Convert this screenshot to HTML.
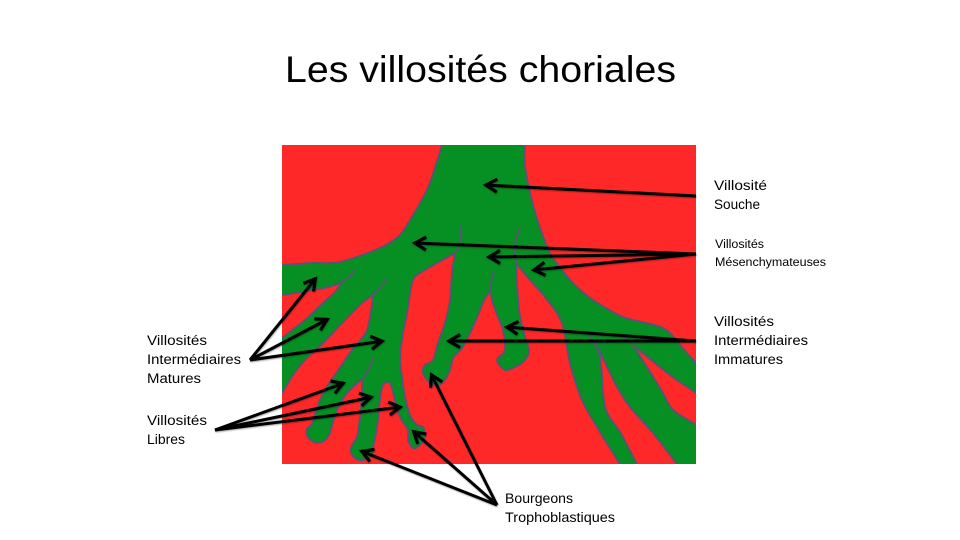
<!DOCTYPE html>
<html lang="fr">
<head>
<meta charset="utf-8">
<title>Les villosités choriales</title>
<style>
html,body{margin:0;padding:0;background:#fff;width:960px;height:540px;overflow:hidden}
svg{display:block}
text{font-family:"Liberation Sans",sans-serif;fill:#000}
.l{font-size:14.2px}
.s{font-size:12.4px}
</style>
</head>
<body>
<svg width="960" height="540" viewBox="0 0 960 540">
<defs>
<clipPath id="c"><rect x="282" y="145" width="414" height="319"/></clipPath>
<marker id="h" markerUnits="userSpaceOnUse" markerWidth="24" markerHeight="24" refX="15" refY="12" orient="auto">
<path d="M3 5.5L14 12L3 18.5" fill="none" stroke="#000" stroke-width="3.2"/>
</marker>
<filter id="sh" x="-5%" y="-5%" width="110%" height="110%"><feDropShadow dx="0.5" dy="1" stdDeviation="0.8" flood-color="#000" flood-opacity="0.35"/></filter>
</defs>
<text x="285" y="82" font-size="37" textLength="391" lengthAdjust="spacingAndGlyphs">Les villosités choriales</text>
<g clip-path="url(#c)">
<rect x="282" y="145" width="414" height="319" fill="#fe2828"/>
<path id="v" fill="#068f22" stroke="#56566e" stroke-width="2" stroke-linejoin="round"/>
<g fill="none" stroke="#56566e" stroke-width="2" stroke-linecap="round">
<path d="M340 283Q349 278 355 270"/>
<path d="M373 295Q381 288 386 279"/>
<path d="M362 380Q369 370 373 359"/>
<path d="M455 253Q463 240 461 227"/>
<path d="M491 290Q490 280 494 273"/>
<path d="M516 263Q513 240 520 229"/>
<path d="M590 337L600 352"/>
<path d="M623 336L634 346"/>
</g>
</g>
<g fill="none" stroke="#000" stroke-width="3" marker-end="url(#h)" filter="url(#sh)">
<line x1="696" y1="196" x2="485" y2="185"/>
<line x1="696" y1="254" x2="414" y2="243"/>
<line x1="696" y1="254" x2="488" y2="257"/>
<line x1="696" y1="254" x2="533" y2="270"/>
<line x1="250" y1="360" x2="316" y2="278"/>
<line x1="250" y1="360" x2="328" y2="319"/>
<line x1="250" y1="360" x2="383" y2="341"/>
<line x1="215" y1="430" x2="344" y2="383"/>
<line x1="215" y1="430" x2="372" y2="397"/>
<line x1="215" y1="430" x2="401" y2="407"/>
<line x1="696" y1="341" x2="448" y2="341"/>
<line x1="696" y1="341" x2="506" y2="327"/>
<line x1="497" y1="505" x2="431" y2="374"/>
<line x1="497" y1="505" x2="413" y2="431"/>
<line x1="497" y1="505" x2="361" y2="451"/>
</g>
<g class="l"><text x="714" y="190" textLength="53" lengthAdjust="spacingAndGlyphs">Villosité</text><text x="714" y="209" textLength="46" lengthAdjust="spacingAndGlyphs">Souche</text></g>
<g class="s"><text x="715" y="248" textLength="49" lengthAdjust="spacingAndGlyphs">Villosités</text><text x="715" y="266" textLength="111" lengthAdjust="spacingAndGlyphs">Mésenchymateuses</text></g>
<g class="l"><text x="714" y="326" textLength="60" lengthAdjust="spacingAndGlyphs">Villosités</text><text x="714" y="345" textLength="94" lengthAdjust="spacingAndGlyphs">Intermédiaires</text><text x="714" y="364" textLength="69" lengthAdjust="spacingAndGlyphs">Immatures</text></g>
<g class="l"><text x="147" y="345" textLength="60" lengthAdjust="spacingAndGlyphs">Villosités</text><text x="147" y="364" textLength="94" lengthAdjust="spacingAndGlyphs">Intermédiaires</text><text x="147" y="383" textLength="54" lengthAdjust="spacingAndGlyphs">Matures</text></g>
<g class="l"><text x="147" y="425" textLength="60" lengthAdjust="spacingAndGlyphs">Villosités</text><text x="147" y="444" textLength="38" lengthAdjust="spacingAndGlyphs">Libres</text></g>
<g class="l"><text x="505" y="503" textLength="68" lengthAdjust="spacingAndGlyphs">Bourgeons</text><text x="505" y="522" textLength="110" lengthAdjust="spacingAndGlyphs">Trophoblastiques</text></g>
</svg>
<script>
var outlineSegments = [
[[444,135],[442,145],[435,168],[427,190],[413,215],[400,235],[380,248],[340,262],[313,263],[282,265],[270,266]],
[[270,266],[270,297]],
[[270,297],[282,295],[313,290],[332,286],[342,282]],
[[342,282],[335,292],[323,303],[305,320],[282,338],[270,348]],
[[270,348],[270,410]],
[[270,410],[282,393],[293,375],[305,360],[323,343],[345,320],[362,303],[373,295]],
[[373,295],[372,305],[368,327],[363,337],[352,350],[335,375],[330,382],[320,400],[315,415],[312,424],[307,429],[307,435],[312,441],[318,443],[325,440],[330,433],[332,425],[337,410],[347,393],[362,379]],
[[362,379],[362,397],[360,417],[357,437],[352,445],[351,452],[355,458],[363,460],[372,455],[373,447],[377,427],[379,407],[382,387],[387,382],[391,385],[395,400],[400,417],[408,430],[408,440],[413,448],[420,445],[425,437],[423,427],[417,425],[410,415],[405,397],[402,377],[400,357],[403,333],[407,313],[409,300],[412,283],[417,275],[437,263],[455,253]],
[[455,253],[452,273],[450,300],[445,323],[438,343],[433,360],[425,365],[423,372],[427,380],[435,385],[443,382],[450,370],[453,358],[462,348],[470,333],[478,315],[484,300],[491,290]],
[[491,290],[492,300],[498,317],[503,330],[505,350],[498,358],[498,363],[505,370],[513,368],[523,362],[529,352],[525,337],[520,317],[518,300],[516,263]],
[[516,263],[530,280],[545,297],[562,323],[570,363],[582,400],[600,432],[620,464],[628,478]],
[[628,478],[645,478]],
[[645,478],[637,464],[620,432],[605,407],[600,357],[590,337]],
[[590,337],[600,352],[616,385],[630,407],[653,433],[677,464],[688,478]],
[[688,478],[710,478],[710,440]],
[[710,440],[696,425],[673,410],[660,388],[633,345]],
[[633,345],[670,375],[696,393],[710,405]],
[[710,405],[710,375]],
[[710,375],[696,363],[680,345],[663,328],[623,317],[593,300],[575,285],[558,265],[547,247],[533,205],[525,167],[525,145],[526,135]]
];
var d = 'M' + outlineSegments[0][0].join(' ');
outlineSegments.forEach(function (seg) {
  for (var i = 0; i < seg.length - 1; i++) {
    var p0 = seg[i - 1] || seg[i];
    var p1 = seg[i];
    var p2 = seg[i + 1];
    var p3 = seg[i + 2] || p2;
    var k = 0.16;
    d += 'C' + (p1[0] + (p2[0] - p0[0]) * k) + ' ' + (p1[1] + (p2[1] - p0[1]) * k) + ' ' +
         (p2[0] - (p3[0] - p1[0]) * k) + ' ' + (p2[1] - (p3[1] - p1[1]) * k) + ' ' + p2[0] + ' ' + p2[1];
  }
});
document.getElementById('v').setAttribute('d', d + 'Z');
</script>
</body>
</html>
